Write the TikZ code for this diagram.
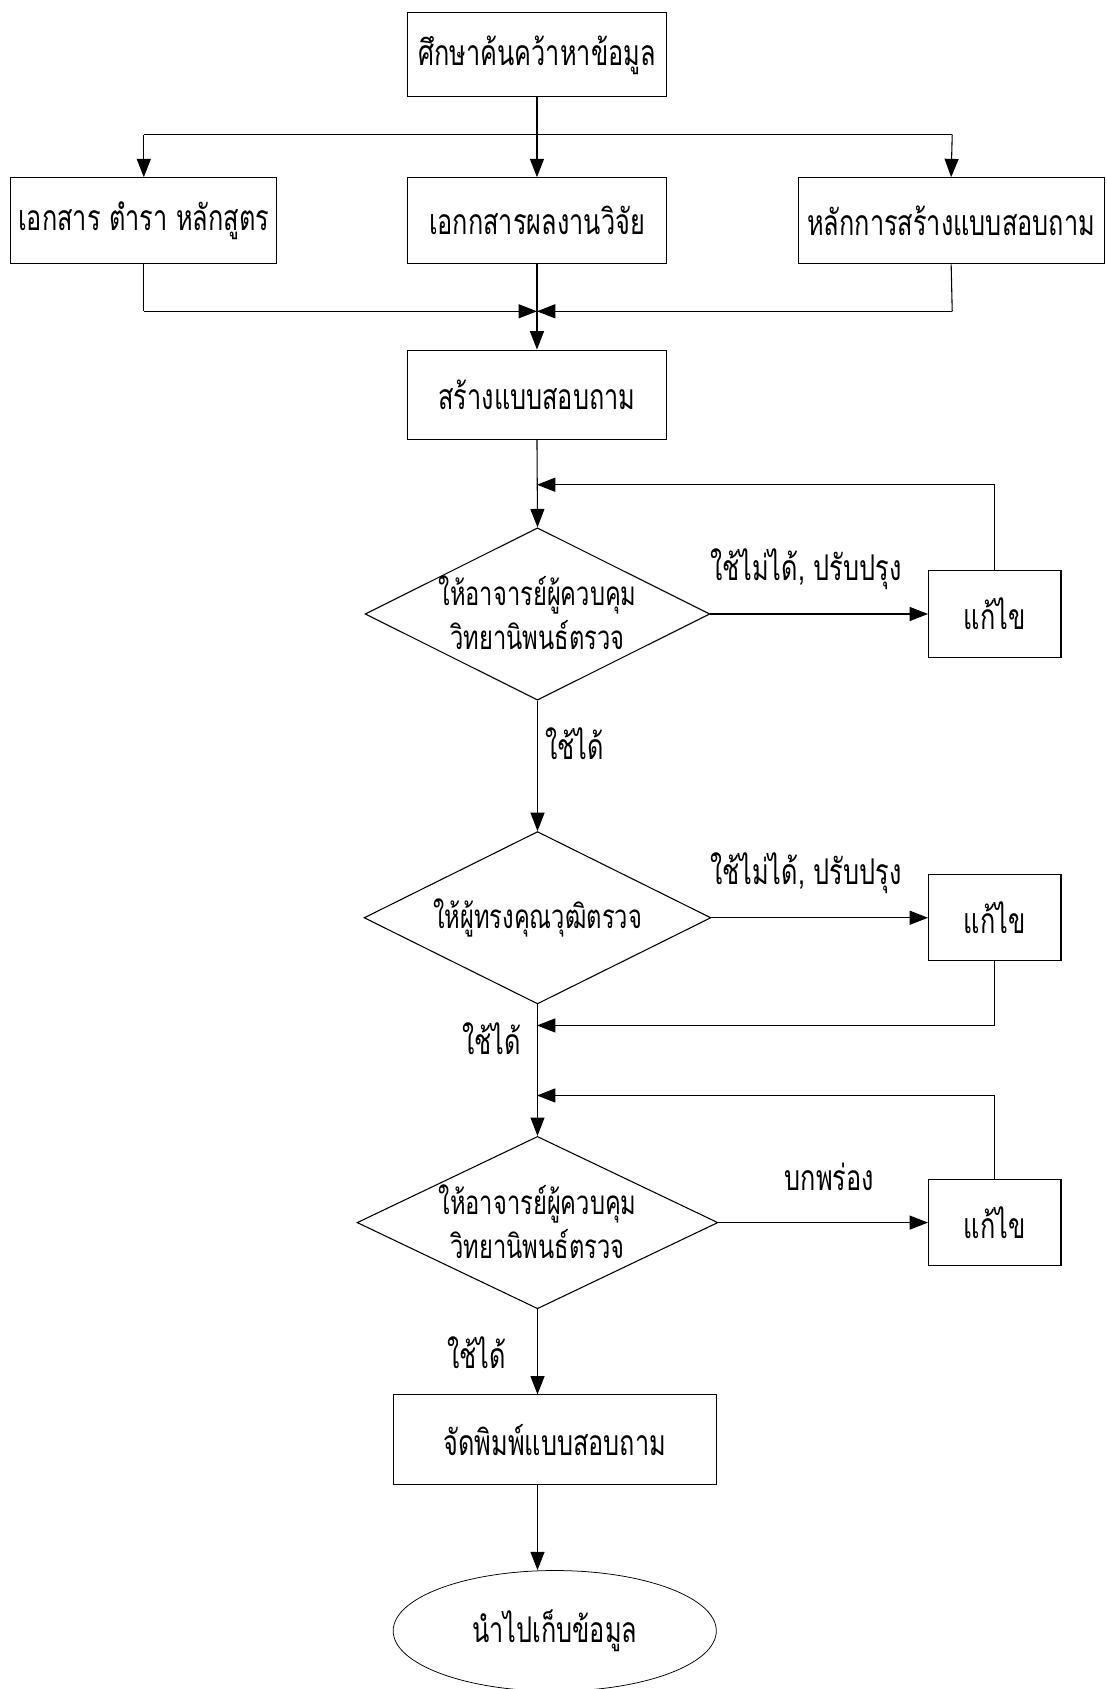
\documentclass[tikz,border=0pt]{standalone}
\usepackage{fontspec}
\usepackage{graphicx}
\newfontfamily\thaifont[Script=Thai]{Loma}
\newcommand\tx[1]{\scalebox{1}[1.4]{#1}}
\usetikzlibrary{shapes.geometric,arrows.meta}
\begin{document}
\begin{tikzpicture}[x=1pt,y=-1pt,
  every node/.style={font=\thaifont\fontsize{23.5}{41}\selectfont},
  box/.style={draw,line width=1pt,inner sep=0pt},
  dia/.style={draw,diamond,aspect=2,line width=1pt,inner sep=0pt},
  diatext/.style={inner sep=0pt,align=center,font=\thaifont\fontsize{22}{41}\selectfont},
  lab/.style={inner sep=0pt},
  conn/.style={line width=1pt},
  arr/.style={line width=1pt,-{Triangle[length=17pt,width=13pt]}}]
\useasboundingbox (0,0) rectangle (1027,1568);
\fill[white] (0,0) rectangle (1027,1568);
% nodes
\node[box,minimum width=241pt,minimum height=78pt] (top) at (498.5,51) {\tx{ศึกษาค้นคว้าหาข้อมูล}};
\node[box,minimum width=247pt,minimum height=80pt] (left) at (133.5,205) {\tx{เอกสาร ตำรา หลักสูตร}};
\node[box,minimum width=241pt,minimum height=80pt] (mid) at (498.5,205) {\tx{เอกกสารผลงานวิจัย}};
\node[box,minimum width=284pt,minimum height=80pt] (right) at (883,205) {\tx{หลักการสร้างแบบสอบถาม}};
\node[box,minimum width=241pt,minimum height=83pt] (make) at (498.5,366.5) {\tx{สร้างแบบสอบถาม}};
\node[dia,minimum width=320pt,minimum height=160pt] (d1) at (499,570) {};
\node[diatext] (d1t) at (499,569) {\tx{ให้อาจารย์ผู้ควบคุม}\\\tx{วิทยานิพนธ์ตรวจ}};
\node[dia,minimum width=322pt,minimum height=160pt] (d2) at (499,852) {};
\node[diatext] (d2t) at (499,852) {\tx{ให้ผู้ทรงคุณวุฒิตรวจ}};
\node[dia,minimum width=335pt,minimum height=160pt] (d3) at (499,1135) {};
\node[diatext] (d3t) at (499,1134) {\tx{ให้อาจารย์ผู้ควบคุม}\\\tx{วิทยานิพนธ์ตรวจ}};
\node[box,minimum width=123pt,minimum height=80pt] (f1) at (923.5,570) {\tx{แก้ไข}};
\node[box,minimum width=123pt,minimum height=80pt] (f2) at (923.5,852) {\tx{แก้ไข}};
\node[box,minimum width=123pt,minimum height=80pt] (f3) at (923.5,1135) {\tx{แก้ไข}};
\node[box,minimum width=300pt,minimum height=83pt] (print) at (515,1336.5) {\tx{จัดพิมพ์แบบสอบถาม}};
\node[draw,ellipse,line width=0.7pt,minimum width=300pt,minimum height=112pt,inner sep=0pt] (store) at (515,1514) {\tx{นำไปเก็บข้อมูล}};
% labels
\node[lab] (l1) at (748,528) {\tx{ใช้ไม่ได้, ปรับปรุง}};
\node[lab] (l2) at (748,811) {\tx{ใช้ไม่ได้, ปรับปรุง}};
\node[lab] (l3) at (770,1093) {\tx{บกพร่อง}};
\node[lab,anchor=west] (ok1) at (506,690) {\tx{ใช้ได้}};
\node[lab,anchor=east] (ok2) at (484,964) {\tx{ใช้ได้}};
\node[lab,anchor=east] (ok3) at (470,1256) {\tx{ใช้ได้}};
% coordinates
\coordinate (bl) at (133.5,125);
\coordinate (br) at (884,125);
\coordinate (ml) at (133.5,289);
\coordinate (mr) at (884,289);
\coordinate (mc) at (498.5,289);
\coordinate (fb1) at (923.5,450);
\coordinate (fb1e) at (498.5,450);
\coordinate (fb2) at (923.5,952);
\coordinate (fb2e) at (498.5,952);
\coordinate (fb3) at (923.5,1017);
\coordinate (fb3e) at (498.5,1017);
% connectors
\draw[arr] (top.south) -- (mid.north);
\draw[conn] (bl) -- (br);
\draw[arr] (bl) -- (left.north);
\draw[arr] (br) -- (right.north);
\draw[conn] (left.south) -- (ml);
\draw[arr] (ml) -- (mc);
\draw[conn] (right.south) -- (mr);
\draw[arr] (mr) -- (mc);
\draw[arr] (mid.south) -- (make.north);
\draw[arr] (make.south) -- (d1.north);
\draw[arr] (d1.east) -- (f1.west);
\draw[conn] (f1.north) -- (fb1);
\draw[arr] (fb1) -- (fb1e);
\draw[arr] (d1.south) -- (d2.north);
\draw[arr] (d2.east) -- (f2.west);
\draw[conn] (f2.south) -- (fb2);
\draw[arr] (fb2) -- (fb2e);
\draw[arr] (d2.south) -- (d3.north);
\draw[arr] (d3.east) -- (f3.west);
\draw[conn] (f3.north) -- (fb3);
\draw[arr] (fb3) -- (fb3e);
\draw[arr] (d3.south) -- (d3.south |- print.north);
\draw[arr] (d3.south |- print.south) -- (d3.south |- store.north);
\end{tikzpicture}
\end{document}
